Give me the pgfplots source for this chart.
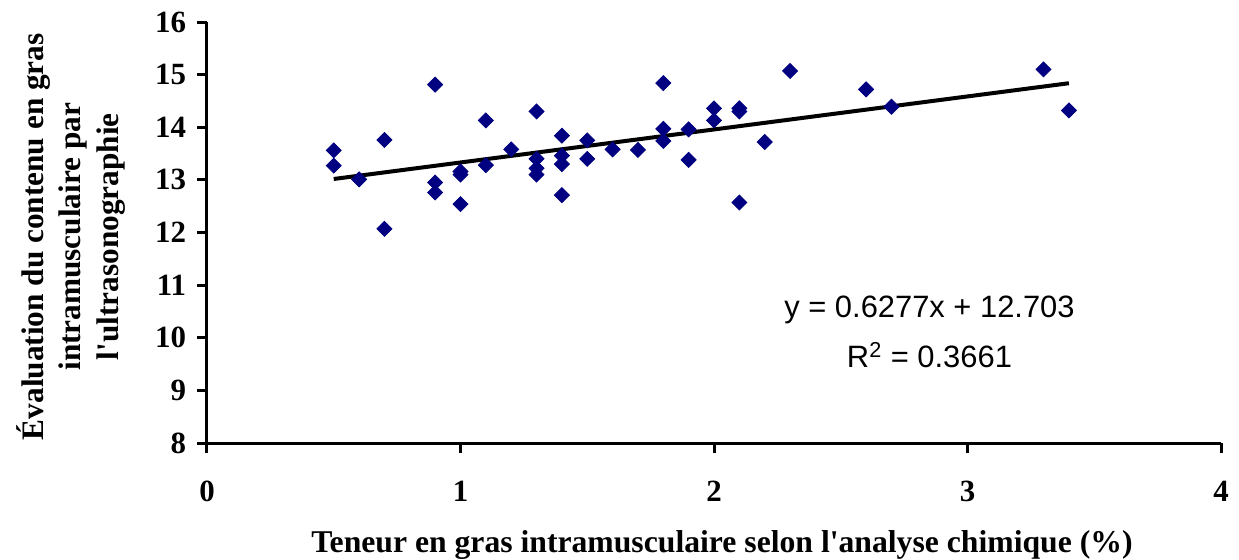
\documentclass[border=0pt]{standalone}
\usepackage{fontspec}
\setmainfont{Liberation Serif}
\newfontfamily\arial{Liberation Sans}
\usepackage{pgfplots}
\pgfplotsset{compat=1.18}
\definecolor{navy}{RGB}{0,0,128}
\begin{document}
\begin{tikzpicture}
\useasboundingbox (-103.5bp,-58.5bp) rectangle (516bp,221.5bp);
\begin{axis}[
  scale only axis, width=507bp, height=210.5bp,
  xmin=0, xmax=4, ymin=8, ymax=16,
  axis lines*=left,
  tick align=outside, major tick length=5bp,
  xtick={0,1,2,3,4}, ytick={8,9,10,11,12,13,14,15,16},
  axis line style={line width=1.5bp},
  every tick/.style={line width=1.5bp, black},
  ticklabel style={font=\fontsize{15.5}{18}\selectfont\bfseries},
  /pgf/number format/assume math mode=true,
  xticklabel style={yshift=-10.5bp},
  yticklabel style={xshift=-2bp},
  xlabel={Teneur en gras intramusculaire selon l\textquotesingle analyse chimique (\%)},
  xlabel style={at={(axis description cs:0.5,0)}, anchor=center, yshift=-51bp, xshift=4bp, font=\fontsize{15.9}{18}\selectfont\bfseries},
  ylabel={Évaluation du contenu en gras\\intramusculaire par\\l\textquotesingle ultrasonographie},
  ylabel style={at={(axis description cs:-0.1341,0.49)}, anchor=center, align=center, font=\fontsize{15.7}{19}\selectfont\bfseries},
  clip=false,
]
\addplot[only marks, mark=square*, mark size=2.65bp, mark options={rotate=45, fill=navy, draw=navy}] table {
x y
0.5 13.56
0.5 13.27
0.6 13.01
0.7 13.76
0.7 12.07
0.9 14.81
0.9 12.95
0.9 12.76
1.0 13.10
1.0 13.16
1.0 12.54
1.1 14.13
1.1 13.28
1.2 13.58
1.3 14.30
1.3 13.40
1.3 13.22
1.3 13.10
1.4 13.84
1.4 13.46
1.4 13.30
1.4 12.71
1.5 13.75
1.5 13.40
1.6 13.58
1.7 13.57
1.8 14.84
1.8 13.97
1.8 13.74
1.9 13.96
1.9 13.38
2.0 14.36
2.0 14.13
2.1 14.36
2.1 14.30
2.1 12.57
2.2 13.72
2.3 15.07
2.6 14.72
2.7 14.39
3.3 15.10
3.4 14.32
};
\addplot[black, line width=2bp, no marks] coordinates {(0.5,13.017) (3.4,14.837)};
\node[font=\arial\fontsize{15.5}{18}\selectfont] at (axis cs:2.85,10.53) {y = 0.6277x + 12.703};
\node[font=\arial\fontsize{15.5}{18}\selectfont] at (axis cs:2.85,9.67) {R\textsuperscript{2} = 0.3661};
\end{axis}
\end{tikzpicture}
\end{document}
